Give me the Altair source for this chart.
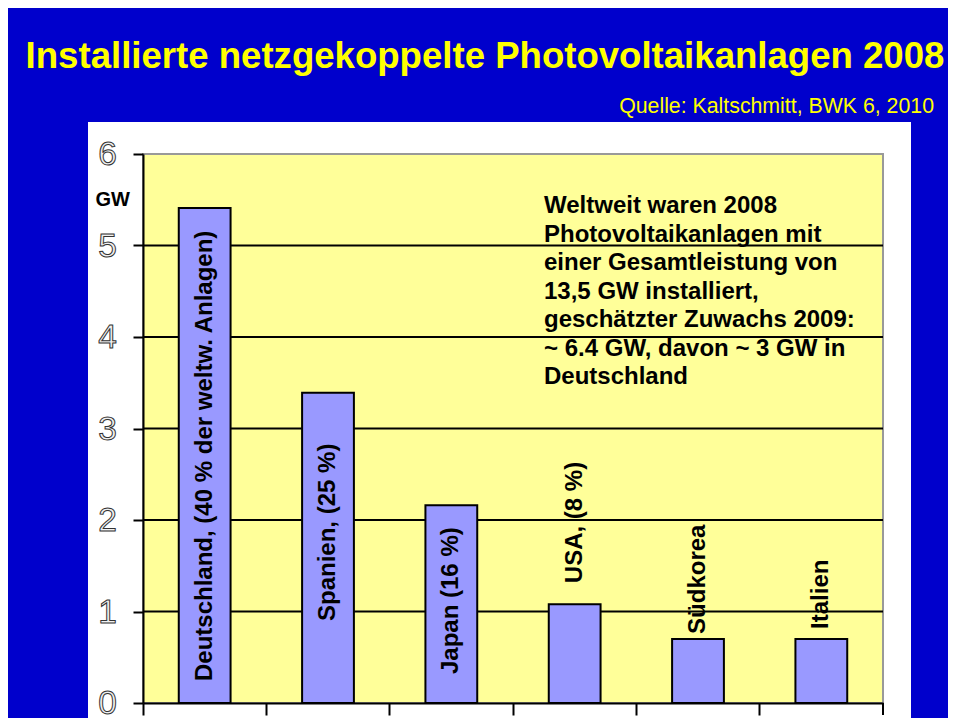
import altair as alt
import pandas as pd

# ---- data ----
countries = ["Deutschland", "Spanien", "Japan", "USA", "Südkorea", "Italien"]
capacity_gw = [5.41, 3.39, 2.16, 1.08, 0.70, 0.70]
bar_labels = [
    "Deutschland, (40 % der weltw. Anlagen)",
    "Spanien, (25 %)",
    "Japan (16 %)",
    "USA, (8 %)",
    "Südkorea",
    "Italien",
]
y_ticks = [0, 1, 2, 3, 4, 5, 6]
grid_values = [1, 2, 3, 4, 5]

title_text = "Installierte netzgekoppelte Photovoltaikanlagen 2008"
source_text = "Quelle: Kaltschmitt, BWK 6, 2010"
note_lines = [
    "Weltweit waren 2008",
    "Photovoltaikanlagen mit",
    "einer Gesamtleistung von",
    "13,5 GW installiert,",
    "geschätzter Zuwachs 2009:",
    "~ 6.4 GW, davon ~ 3 GW in",
    "Deutschland",
]

# ---- layout / style ----
W, H = 740, 549
FONT = "Liberation Sans, Arial, sans-serif"
BLUE = "#0000CC"
YELLOW_BG = "#FFFF99"
BAR_FILL = "#9999FF"

# label placement: inside the bar (from the bottom) or above the bar, gap in px
label_inside = [True, True, True, False, False, False]
label_gap = [22, 82, 29, 21, 5, 10]

df = pd.DataFrame({"land": countries, "gw": capacity_gw, "label": bar_labels})
grid_df = pd.DataFrame({"g": grid_values})
tick_df = pd.DataFrame({"t": y_ticks})
one = pd.DataFrame({"a": [0]})

y_scale = alt.Scale(domain=[0, 6], nice=False, zero=True)

x_axis = alt.Axis(
    labels=False, title=None, domainColor="black", domainWidth=2,
    tickColor="black", tickWidth=2, tickSize=12, bandPosition=0, zindex=1,
)
y_axis = alt.Axis(
    values=y_ticks, labels=False, grid=False, zindex=1,
    title="GW", titleAngle=0, titleX=-48, titleY=45,
    titleAlign="left", titleBaseline="middle",
    titleFont=FONT, titleFontSize=20, titleFontWeight="bold", titleColor="black",
    tickSize=10, tickWidth=2, tickColor="black",
    domainColor="black", domainWidth=2,
)


def xe(field="land:N"):
    return alt.X(field, sort=countries,
                 scale=alt.Scale(paddingInner=0, paddingOuter=0), axis=x_axis)


def ye(field):
    return alt.Y(field, scale=y_scale, axis=y_axis)


panel = alt.Chart(one).mark_rect(color="white").encode(
    x=alt.value(-55), x2=alt.value(768), y=alt.value(-32), y2=alt.value(H + 40)
)
plot_bg = alt.Chart(one).mark_rect(
    fill=YELLOW_BG, stroke="#999999", strokeWidth=2
).encode(x=alt.value(0), x2=alt.value(W), y=alt.value(0), y2=alt.value(H))

# closing tick of the category axis at the right end
end_tick = alt.Chart(one).mark_rule(color="black", strokeWidth=2).encode(
    x=alt.value(W), y=alt.value(H), y2=alt.value(H + 12)
)

grid = alt.Chart(grid_df).mark_rule(color="black", strokeWidth=2).encode(
    y=ye("g:Q")
)

y_labels = alt.Chart(tick_df).mark_text(
    font=FONT, fontSize=33.5, fill="#f0f0f0", stroke="#333333", strokeWidth=1,
    align="right", baseline="middle", dy=1,
).encode(x=alt.value(-26), y=ye("t:Q"), text=alt.Text("t:Q", format="d"))

bars = alt.Chart(df).mark_bar(
    width=alt.RelativeBandSize(0.42), fill=BAR_FILL, stroke="black", strokeWidth=2
).encode(x=xe(), y=ye("gw:Q"))

label_layers = []
for i, land in enumerate(countries):
    base_expr = "0" if label_inside[i] else "datum.gw"
    label_layers.append(
        alt.Chart(df)
        .transform_filter(alt.datum.land == land)
        .transform_calculate(base=base_expr)
        .mark_text(
            angle=270, align="left", baseline="middle", dx=label_gap[i],
            font=FONT, fontSize=24, fontWeight="bold", color="black",
        )
        .encode(x=xe(), y=ye("base:Q"), text="label:N")
    )

title = alt.Chart(one).mark_text(
    text=title_text, font=FONT, fontSize=36.6, fontWeight="bold",
    color="#FFFF00", align="center", baseline="alphabetic",
).encode(x=alt.value(342), y=alt.value(-86))

source = alt.Chart(one).mark_text(
    text=source_text, font=FONT, fontSize=21.3, color="#FFFF00",
    align="right", baseline="alphabetic",
).encode(x=alt.value(791), y=alt.value(-41))

note = alt.Chart(one).mark_text(
    text=note_lines, font=FONT, fontSize=24, fontWeight="bold", color="black",
    align="left", baseline="alphabetic", lineHeight=28.5,
).encode(x=alt.value(401), y=alt.value(59))

chart = alt.layer(
    panel, plot_bg, grid, end_tick, bars, y_labels, *label_layers, note, title, source
).properties(
    width=W,
    height=H,
    autosize=alt.AutoSizeParams(type="none"),
    padding={"left": 135, "top": 146, "right": 65, "bottom": 15},
).configure(background=BLUE).configure_view(strokeWidth=0)

chart.save("out.html", embed_options={"renderer": "svg", "actions": False})
